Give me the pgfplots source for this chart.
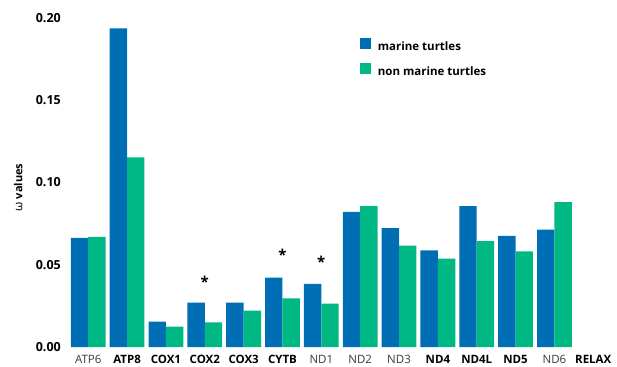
\documentclass[border=0pt]{standalone}
\usepackage{fontspec}
\setmainfont{Open Sans}
\usepackage{pgfplots}
\pgfplotsset{compat=1.18}

\definecolor{marineblue}{HTML}{006EB4}
\definecolor{nonmarinegreen}{HTML}{00B884}
\definecolor{lightlabel}{HTML}{3A3A3A}

% square legend swatch for the bar series
\pgfplotsset{sqlegend/.style={legend image code/.code={\fill[##1] (0pt,-2pt) rectangle (10.7pt,8.7pt);}}}

\begin{document}
\begin{tikzpicture}
\begin{axis}[
  scale only axis,
  width=543.9pt, height=329pt,
  xmin=-0.5, xmax=13.5,
  ymin=0, ymax=0.2,
  clip=false,
  axis line style={draw=none},
  major tick length=0pt,
  xtick={0,...,13},
  xticklabels={{\color{lightlabel}ATP6},\textbf{ATP8},\textbf{COX1},\textbf{COX2},\textbf{COX3},\textbf{CYTB},
    {\color{lightlabel}ND1},{\color{lightlabel}ND2},{\color{lightlabel}ND3},\textbf{ND4},\textbf{ND4L},\textbf{ND5},
    {\color{lightlabel}ND6},\textbf{RELAX}},
  xticklabel style={font=\fontsize{11.5}{13}\selectfont, anchor=base, inner sep=0pt, yshift=-16.5pt},
  ytick={0,0.05,0.10,0.15,0.20},
  scaled y ticks=false,
  /pgf/number format/assume math mode=true,
  yticklabel style={/pgf/number format/fixed, /pgf/number format/fixed zerofill,
    /pgf/number format/precision=2,
    font=\bfseries\fontsize{12.5}{14}\selectfont, anchor=east, inner sep=0pt, xshift=-7.8pt},
  ylabel={\fontsize{12}{13}\selectfont ω \textbf{\fontsize{11}{13}\selectfont values}},
  ylabel style={at={(rel axis cs:-0.0928,0.4848)}, anchor=center},
  legend style={draw=none, fill=none, at={(rel axis cs:0.5354,0.94)}, anchor=north west,
    font=\bfseries\fontsize{11.5}{13}\selectfont, row sep=9.5pt, inner sep=0pt,
    legend cell align=left,
    /tikz/every odd column/.append style={column sep=5pt}},
]
\coordinate (BL) at (rel axis cs:0,0);
\coordinate (TR) at (rel axis cs:1,1);

% omega for marine turtles
\addplot[ybar, bar width=17.4pt, bar shift=-8.7pt, fill=marineblue, draw=none, sqlegend]
  coordinates {
  (0,0.0664) (1,0.1937) (2,0.0154) (3,0.0269) (4,0.0269) (5,0.0421) (6,0.0383)
  (7,0.0822) (8,0.0723) (9,0.0588) (10,0.0857) (11,0.0675) (12,0.0713)
  };
\addlegendentry{marine turtles}

% omega for non marine turtles
\addplot[ybar, bar width=17.4pt, bar shift=8.7pt, fill=nonmarinegreen, draw=none, sqlegend]
  coordinates {
  (0,0.0670) (1,0.1153) (2,0.0124) (3,0.0150) (4,0.0221) (5,0.0296) (6,0.0263)
  (7,0.0857) (8,0.0616) (9,0.0537) (10,0.0643) (11,0.0582) (12,0.0881)
  };
\addlegendentry{non marine turtles}

% significance markers
\addplot[draw=none, mark=none, forget plot,
  nodes near coords={\textbf{*}},
  every node near coord/.append style={anchor=center, inner sep=0pt, yshift=-2.5pt,
    font=\fontsize{15}{15}\selectfont}]
  coordinates {(3,0.0413) (5,0.0573) (6,0.0533)};
\end{axis}
\pgfresetboundingbox
\path[use as bounding box] ([xshift=-68.8pt,yshift=-19pt]BL) rectangle ([xshift=4.3pt,yshift=18pt]TR);
\end{tikzpicture}
\end{document}
